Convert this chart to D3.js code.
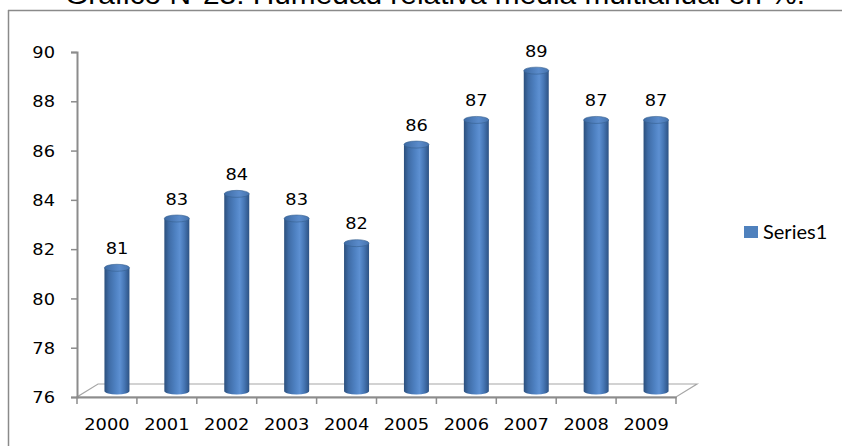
<!DOCTYPE html>
<html>
<head>
<meta charset="utf-8">
<script src="https://cdn.jsdelivr.net/npm/d3@7"></script>
<style>
  html, body { margin: 0; padding: 0; background: #fff; }
  svg { display: block; }
</style>
</head>
<body>
<svg id="chart" width="842" height="446"></svg>
<script>
const title = "Gráfico N°23: Humedad relativa media multianual en %.";
const categories = ["2000","2001","2002","2003","2004","2005","2006","2007","2008","2009"];
const values = [81, 83, 84, 83, 82, 86, 87, 89, 87, 87];
const yTicks = [76, 78, 80, 82, 84, 86, 88, 90];
const seriesName = "Series1";

(function () {
const svg = d3.select("#chart");
const W = 842, H = 446;
const pLeft = 77, pRight = 676, pTop = 52, pBottom = 397;
const depthX = 21, depthY = 13;

const x = d3.scaleBand().domain(categories).range([pLeft, pRight]).padding(0);
const y = d3.scaleLinear().domain([76, 90]).range([pBottom, pTop]);

const defs = svg.append("defs");
const g = defs.append("linearGradient").attr("id", "cyl").attr("x1", "0").attr("x2", "1").attr("y1", "0").attr("y2", "0");
[[0, "#2b4f7c"], [0.18, "#3f6ca6"], [0.45, "#4f82c3"], [0.62, "#5d90d2"], [0.8, "#4676b4"], [1, "#2d5283"]]
  .forEach(([o, c]) => g.append("stop").attr("offset", o).attr("stop-color", c));
const gt = defs.append("linearGradient").attr("id", "cyltop").attr("x1", "0").attr("x2", "1").attr("y1", "0").attr("y2", "0");
[[0, "#3d6aa3"], [0.6, "#5a8bcb"], [1, "#4673ad"]]
  .forEach(([o, c]) => gt.append("stop").attr("offset", o).attr("stop-color", c));

// chart frame (partially visible)
svg.append("line").attr("x1", 8).attr("x2", W).attr("y1", 10.5).attr("y2", 10.5)
  .attr("stroke", "#8a8a8a").attr("stroke-width", 1.5);
svg.append("line").attr("x1", 8.5).attr("x2", 8.5).attr("y1", 10).attr("y2", H)
  .attr("stroke", "#8a8a8a").attr("stroke-width", 1.5);

// title (cut at top)
svg.append("text").attr("x", 435).attr("y", 4)
  .attr("text-anchor", "middle")
  .attr("font-family", "Liberation Sans, Arial, sans-serif")
  .attr("font-size", 28).attr("fill", "#000")
  .attr("textLength", 740).attr("lengthAdjust", "spacingAndGlyphs")
  .text(title);

// floor
svg.append("polygon")
  .attr("points", [[pLeft, pBottom], [pRight, pBottom], [pRight + depthX, pBottom - depthY], [pLeft + depthX, pBottom - depthY]].map(p => p.join(",")).join(" "))
  .attr("fill", "#fff").attr("stroke", "#a6a6a6").attr("stroke-width", 1.2);

// y axis
const yAxis = d3.axisLeft(y).tickValues(yTicks).tickSize(6).tickPadding(16).tickFormat(d3.format("d"));
const ya = svg.append("g").attr("transform", `translate(${pLeft},0)`).call(yAxis);
ya.select(".domain").attr("stroke", "#8c8c8c").attr("stroke-width", 2);
ya.selectAll(".tick line").attr("stroke", "#8c8c8c").attr("stroke-width", 1.5);
ya.selectAll(".tick text")
  .attr("font-family", "DejaVu Sans, Verdana, sans-serif").attr("font-size", 15.5).attr("fill", "#000")
  .attr("text-anchor", "end").attr("x", 0).attr("dy", "0.36em")
  .attr("transform", "translate(-22,0) scale(1.15,1)");

// x axis
const xAxis = d3.axisBottom(x).tickSize(0).tickPadding(0);
const xa = svg.append("g").attr("transform", `translate(0,${pBottom})`).call(xAxis);
xa.select(".domain").attr("stroke", "#8c8c8c").attr("stroke-width", 2);
xa.selectAll(".tick text")
  .attr("font-family", "DejaVu Sans, Verdana, sans-serif").attr("font-size", 15.5).attr("fill", "#000")
  .attr("y", 0).attr("dy", 0)
  .attr("transform", "translate(0,33) scale(1.15,1)");
// category boundary ticks
const bounds = categories.map(c => x(c)).concat([pRight]);
xa.selectAll(".bound").data(bounds).enter().append("line").attr("class", "bound")
  .attr("x1", d => d).attr("x2", d => d).attr("y1", 0).attr("y2", 7)
  .attr("stroke", "#8c8c8c").attr("stroke-width", 1.5);

// cylinders
const bw = x.bandwidth();
const r = 12.5, ry = 3.5, offX = 10, offY = 6;
const bars = svg.append("g").selectAll("g").data(categories.map((c, i) => ({ c, v: values[i] }))).enter().append("g");
bars.append("path")
  .attr("d", d => {
    const cx = x(d.c) + bw / 2 + offX;
    const t = y(d.v) - offY, b = y(76) - offY;
    return `M${cx - r},${t} L${cx - r},${b} A${r},${ry} 0 0 0 ${cx + r},${b} L${cx + r},${t} Z`;
  })
  .attr("fill", "url(#cyl)");
bars.append("ellipse")
  .attr("cx", d => x(d.c) + bw / 2 + offX)
  .attr("cy", d => y(d.v) - offY)
  .attr("rx", r).attr("ry", ry)
  .attr("fill", "url(#cyltop)").attr("stroke", "#35608f").attr("stroke-width", 0.6);
bars.append("text")
  .attr("font-family", "DejaVu Sans, Verdana, sans-serif").attr("font-size", 15.5).attr("fill", "#000")
  .attr("text-anchor", "middle")
  .attr("transform", d => `translate(${x(d.c) + bw / 2 + offX},${y(d.v) - 20}) scale(1.15,1)`)
  .text(d => d.v);

// legend
svg.append("rect").attr("x", 744).attr("y", 226).attr("width", 14).attr("height", 12).attr("fill", "#4f81bd");
svg.append("text").attr("x", 763).attr("y", 238.5)
  .attr("font-family", "Lato, Carlito, Calibri, sans-serif").attr("font-size", 20).attr("fill", "#000")
  .text(seriesName);
})();
</script>
</body>
</html>
